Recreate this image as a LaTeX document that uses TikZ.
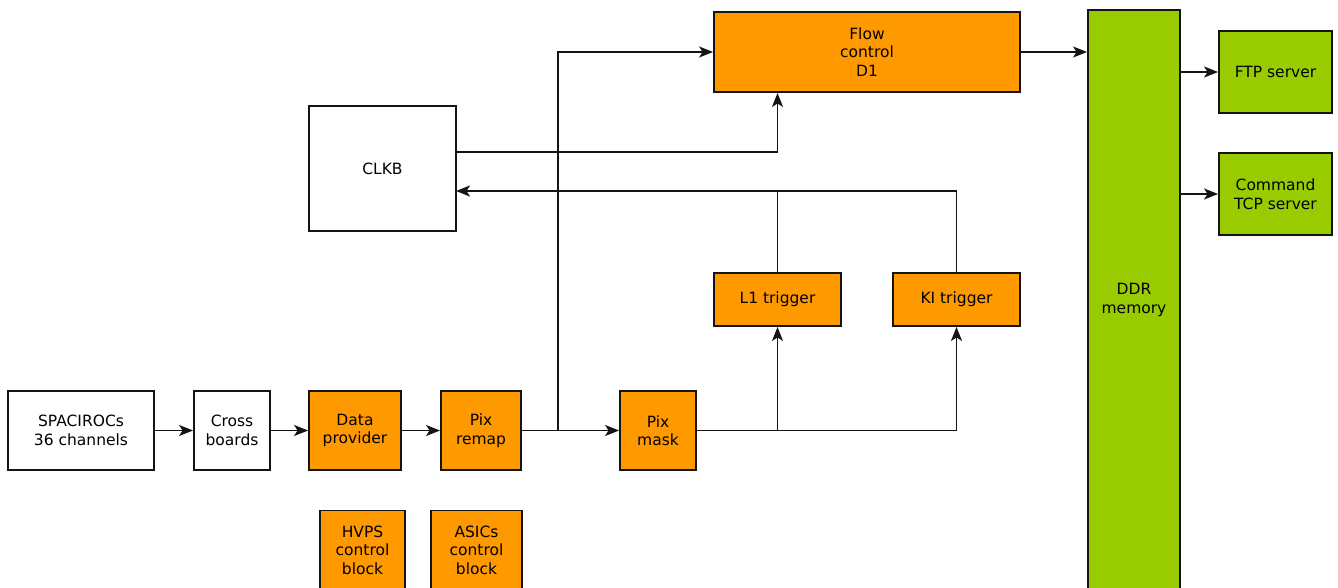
\documentclass[tikz,border=0pt]{standalone}
\usepackage{fontspec}
\setmainfont{DejaVu Sans}
\usetikzlibrary{arrows.meta}
\definecolor{orng}{RGB}{255,153,0}
\definecolor{grn}{RGB}{153,204,0}
\definecolor{edge}{RGB}{20,20,20}
\begin{document}
\begin{tikzpicture}[x=1pt,y=-1pt,
  blk/.style={draw=edge,line width=1.9pt,inner sep=0pt,align=center,font=\fontsize{15.5}{18.5}\selectfont},
  ob/.style={blk,fill=orng},
  gb/.style={blk,fill=grn},
  wb/.style={blk,fill=white},
  arr/.style={draw=edge,line width=1.9pt,-{Stealth[length=14pt,width=11pt,inset=3.5pt]}},
  ln/.style={draw=edge,line width=1.9pt}]
\useasboundingbox (0,0) rectangle (1338,588);
\begin{scope}
\clip (0,0) rectangle (1338,588);
\node[ob,minimum width=306,minimum height=80] (flow) at (867,52) {Flow\\control\\D1};
\node[gb,minimum width=92,minimum height=580] (ddr) at (1134,300) {DDR\\memory};
\node[gb,minimum width=113,minimum height=82] (ftp) at (1275.5,72) {FTP server};
\node[gb,minimum width=113,minimum height=82] (cmd) at (1275.5,194) {Command\\TCP server};
\node[wb,minimum width=147,minimum height=125] (clkb) at (382.5,168.5) {CLKB};
\node[ob,minimum width=127,minimum height=53] (l1) at (777.5,299.5) {L1 trigger};
\node[ob,minimum width=127,minimum height=53] (ki) at (956.5,299.5) {KI trigger};
\node[wb,minimum width=146,minimum height=79] (spac) at (81,430.5) {SPACIROCs\\36 channels};
\node[wb,minimum width=76,minimum height=79] (cross) at (232,430.5) {Cross\\boards};
\node[ob,minimum width=92,minimum height=79] (dp) at (355,430.5) {Data\\provider};
\node[ob,minimum width=80,minimum height=79] (remap) at (481,430.5) {Pix\\remap};
\node[ob,minimum width=76,minimum height=79] (mask) at (658,430.5) {Pix\\mask};
\node[ob,minimum width=85,minimum height=79] (hvps) at (362.5,550) {HVPS\\control\\block};
\node[ob,minimum width=91,minimum height=79] (asics) at (476.5,550) {ASICs\\control\\block};
\end{scope}
\coordinate (j1) at (558,430.5);
\coordinate (c1) at (456,152);
\coordinate (k1) at (456,191);
\draw[arr] (spac.east) -- (cross.west);
\draw[arr] (cross.east) -- (dp.west);
\draw[arr] (dp.east) -- (remap.west);
\draw[arr] (remap.east) -- (mask.west);
\draw[arr] (j1) |- (flow.west);
\draw[arr] (c1) -| (l1.north |- flow.south);
\draw[arr] (mask.east) -| (l1.south);
\draw[arr] (mask.east) -| (ki.south);
\draw[ln] (l1.north) -- (l1.north |- k1);
\draw[arr] (ki.north) |- (k1);
\draw[arr] (flow.east) -- (flow.east -| ddr.west);
\draw[arr] (ddr.east |- ftp.west) -- (ftp.west);
\draw[arr] (ddr.east |- cmd.west) -- (cmd.west);
\end{tikzpicture}
\end{document}
